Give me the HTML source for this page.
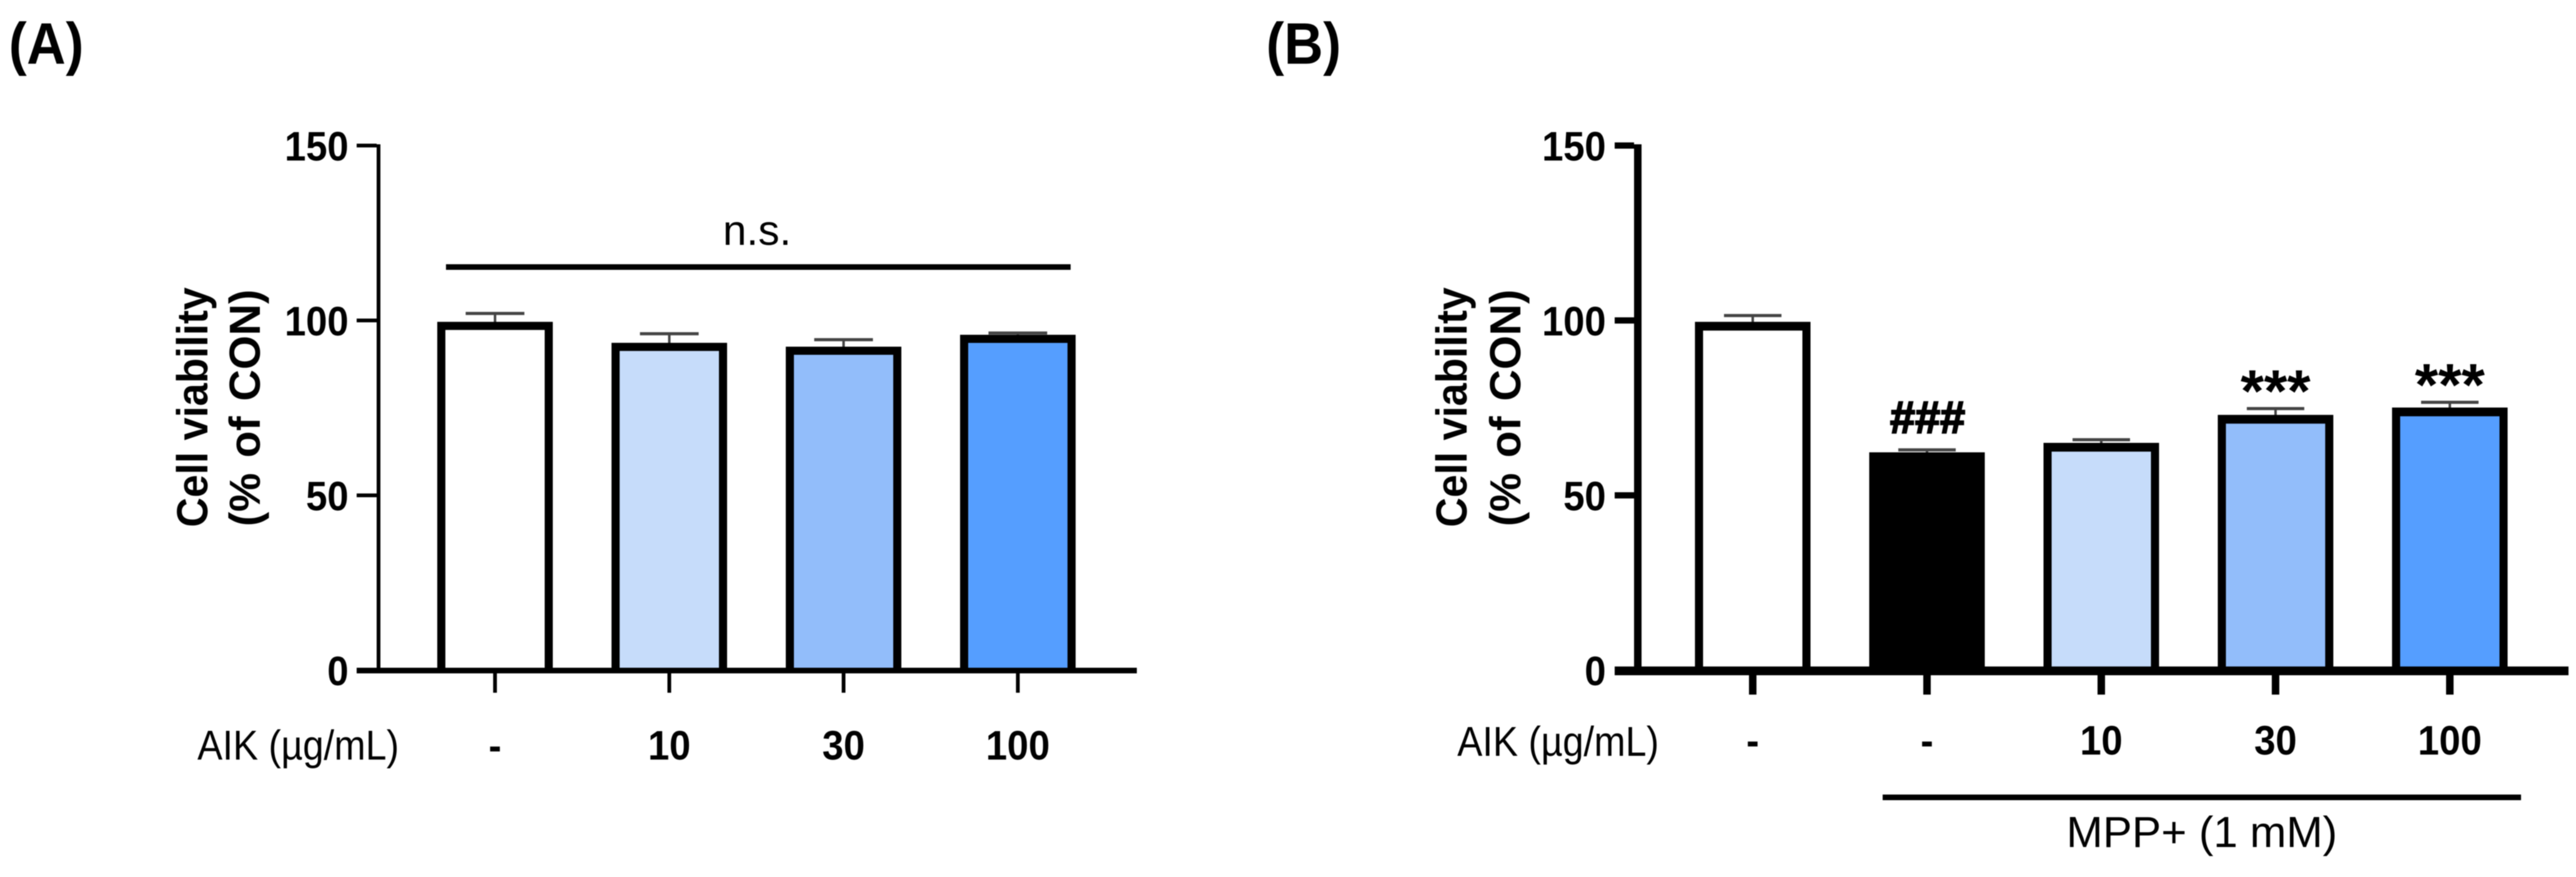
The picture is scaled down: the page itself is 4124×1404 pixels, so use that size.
<!DOCTYPE html>
<html lang="en">
<head>
<meta charset="utf-8">
<title>Cell viability panels A and B</title>
<style>
html,body{margin:0;padding:0;background:#fff;width:4124px;height:1404px;overflow:hidden}
svg{display:block;filter:blur(0.9px)}
text{font-family:"Liberation Sans",Arial,sans-serif;fill:#000}
.b{font-weight:700}
</style>
</head>
<body>
<svg id="figure" xmlns="http://www.w3.org/2000/svg" width="4124" height="1404" viewBox="0 0 4124 1404">
  <rect x="0" y="0" width="4124" height="1404" fill="#fff"/>

  <text class="b" font-size="94" transform="translate(14,102) scale(0.92,1)">(A)</text>
  <text class="b" font-size="94" transform="translate(2027,102) scale(0.92,1)">(B)</text>

  <text class="b" font-size="70" text-anchor="middle" transform="translate(332,652) rotate(-90) scale(0.94,1)">Cell viability</text>
  <text class="b" font-size="70" text-anchor="middle" word-spacing="5" transform="translate(416,653) rotate(-90)">(% of CON)</text>
  <text class="b" font-size="70" text-anchor="middle" transform="translate(2348,652) rotate(-90) scale(0.94,1)">Cell viability</text>
  <text class="b" font-size="70" text-anchor="middle" word-spacing="5" transform="translate(2434,653) rotate(-90)">(% of CON)</text>

  <text font-size="67" transform="translate(316,1216) scale(0.9,1)">AIK (µg/mL)</text>
  <text font-size="67" transform="translate(2333,1210) scale(0.9,1)">AIK (µg/mL)</text>

  <rect x="714" y="423" width="1000" height="9" fill="#000"/>
  <text font-size="68" text-anchor="middle" x="1212" y="392" fill="#111">n.s.</text>

  <rect x="3014" y="1272" width="1022" height="9" fill="#000"/>
  <text font-size="70" text-anchor="middle" x="3525" y="1356">MPP+ (1 mM)</text>

  <g id="panel-a"></g>
  <g id="panel-b"></g>
</svg>

<script>
const yTicks = [0, 50, 100, 150];
const fills = { white: '#ffffff', black: '#000000', light: '#c6dcfa', mid: '#92bdfa', strong: '#559eff' };

const aCategories = ['-', '10', '30', '100'];
const aValues = [99.6, 93.6, 92.5, 95.9];
const aErrorTops = [102, 96.2, 94.5, 96.4];
const aFills = ['white', 'light', 'mid', 'strong'];

const bCategories = ['-', '-', '10', '30', '100'];
const bValues = [99.6, 62.3, 65, 73, 75.1];
const bErrorTops = [101.4, 63, 65.9, 74.8, 76.6];
const bFills = ['white', 'black', 'light', 'mid', 'strong'];
const bMarks = ['', '###', '', '***', '***'];

const NS = 'http://www.w3.org/2000/svg';
const yScale = v => 1073 - v * 5.6;

function make(parent, tag, attrs) {
  const el = document.createElementNS(NS, tag);
  for (const k in attrs) el.setAttribute(k, attrs[k]);
  parent.appendChild(el);
  return el;
}

function drawPanel(root, cfg, categories, values, errorTops, fillKeys) {
  const xScale = i => cfg.x0 + i * cfg.step;

  values.forEach((v, i) => {
    const cx = xScale(i);
    const top = yScale(v);
    const capY = yScale(errorTops[i]);

    const stem = make(root, 'rect', { x: cx - 2, y: capY, width: 4, height: Math.max(0, top - capY) + 2, fill: '#444' });
    
    

    const cap = make(root, 'rect', { x: cx - cfg.capW / 2, y: capY - 2.5, width: cfg.capW, height: 5, fill: '#444' });
    
    

    const bar = make(root, 'rect', { x: cx - cfg.barW / 2, y: top, width: cfg.barW, height: cfg.axisTop - top + 2, fill: '#000' });
    
    

    const inner = make(root, 'rect', {
      x: cx - cfg.barW / 2 + cfg.side,
      y: top + cfg.topB,
      width: cfg.barW - 2 * cfg.side,
      height: Math.max(0, cfg.axisTop - top - cfg.topB),
      fill: fills[fillKeys[i]]
    });
    
    

    const tick = make(root, 'rect', { x: cx - cfg.xTickW / 2, y: cfg.axisTop, width: cfg.xTickW, height: cfg.xTickEnd - cfg.axisTop, fill: '#000' });
    
    

    const label = make(root, 'text', {
      class: 'b',
      'font-size': 66,
      'text-anchor': 'middle',
      transform: 'translate(' + cx + ',' + cfg.labelY + ') scale(0.93,1)'
    });
    label.textContent = categories[i];
    
    
  });

  const yAxis = make(root, 'rect', { x: cfg.axisX, y: 231, width: cfg.axisW, height: cfg.axisTop - 231 + 2, fill: '#000' });
  
  

  const xAxis = make(root, 'rect', { x: cfg.axisLeft, y: cfg.axisTop, width: cfg.axisRight - cfg.axisLeft, height: cfg.axisH, fill: '#000' });
  
  

  yTicks.forEach(t => {
    const py = yScale(t);
    if (t !== 0) {
      const yTick = make(root, 'rect', { x: cfg.axisLeft, y: py - cfg.yTickH / 2, width: cfg.axisX - cfg.axisLeft, height: cfg.yTickH, fill: '#000' });
      
      
    }
    const lab = make(root, 'text', {
      class: 'b',
      'font-size': 66,
      'text-anchor': 'end',
      transform: 'translate(' + cfg.yLabelX + ',' + (py + 24) + ') scale(0.93,1)'
    });
    lab.textContent = String(t);
    
    
  });

  return xScale;
}

const xA = drawPanel(document.getElementById('panel-a'), {
  x0: 792.5, step: 279, barW: 185, side: 13, topB: 13, capW: 94,
  axisX: 603, axisW: 6, axisLeft: 571, axisRight: 1820, axisTop: 1069, axisH: 9,
  yTickH: 6, yLabelX: 558, xTickW: 6, xTickEnd: 1109, labelY: 1216
}, aCategories, aValues, aErrorTops, aFills);

const xB = drawPanel(document.getElementById('panel-b'), {
  x0: 2806, step: 279, barW: 185, side: 13, topB: 14, capW: 92,
  axisX: 2616, axisW: 12, axisLeft: 2585, axisRight: 4112, axisTop: 1067, axisH: 14,
  yTickH: 10, yLabelX: 2571, xTickW: 12, xTickEnd: 1112, labelY: 1208
}, bCategories, bValues, bErrorTops, bFills);

const panelB = document.getElementById('panel-b');
bMarks.forEach((mark, i) => {
  if (!mark) return;
  const isHash = mark.charAt(0) === '#';
  const sig = make(panelB, 'text', {
    class: 'b',
    'font-size': isHash ? 72 : 96,
    'text-anchor': 'middle',
    stroke: isHash ? '#000' : 'none',
    'stroke-width': isHash ? 2.5 : 0,
    x: xB(i) + (isHash ? 1 : 0),
    y: yScale(bErrorTops[i]) + (isHash ? -27 : 5)
  });
  sig.textContent = mark;
  
  
});
</script>
</body>
</html>
